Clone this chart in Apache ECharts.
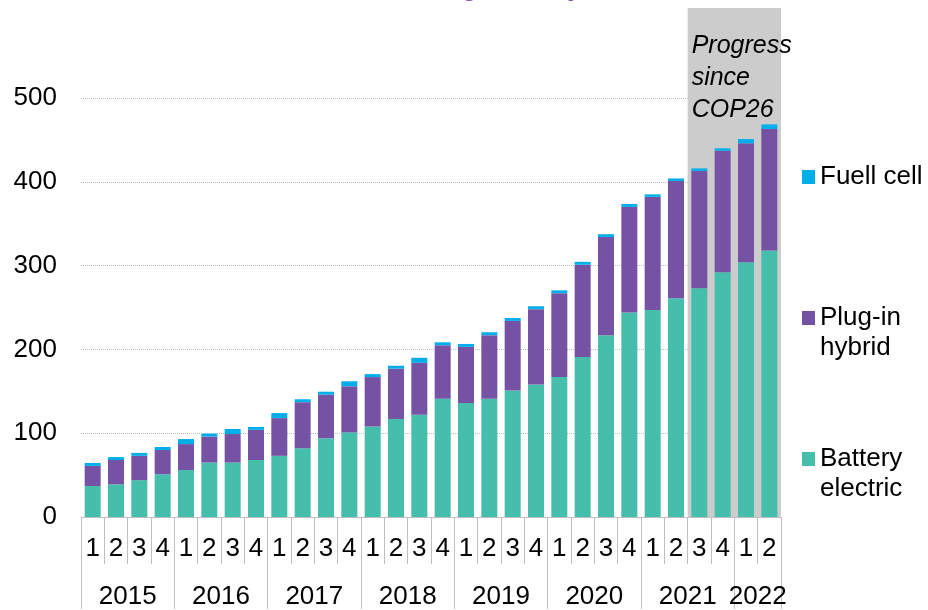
<!DOCTYPE html>
<html>
<head>
<meta charset="utf-8">
<script src="https://cdn.jsdelivr.net/npm/echarts@6/dist/echarts.min.js"></script>
<style>
  html, body { margin: 0; padding: 0; background: #fff; }
  #chart { width: 928px; height: 610px; }
</style>
</head>
<body>
<div id="chart"></div>
<script>
// quarters, 2015 Q1 - 2022 Q2
var quarterLabels = ['1','2','3','4','1','2','3','4','1','2','3','4','1','2','3','4',
  '1','2','3','4','1','2','3','4','1','2','3','4','1','2'];
var yearLabels = ['2015','2016','2017','2018','2019','2020','2021','2022'];

// values
var batteryElectric = [37, 39, 44, 51, 56, 65, 65, 68, 73, 82, 94, 101, 108, 117, 122, 141,
  136, 141, 151, 158, 167, 191, 217, 244, 247, 261, 273, 292, 304, 318];
var plugInHybrid = [24, 29, 29, 29, 31, 31, 34, 36, 45, 55, 52, 55, 59, 60, 62, 64,
  67, 76, 83, 90, 100, 110, 117, 126, 135, 140, 140, 145, 142, 145];
var fuelCell = [3.5, 3.5, 3.5, 3.5, 6, 3.5, 6, 3.5, 6, 3.5, 3.5, 6, 3.5, 3.5, 6, 3.5,
  3.5, 3.5, 3.5, 3.5, 3.5, 3.5, 3.5, 3.5, 3, 3, 3, 3, 5, 5.5];

var yTicks = { min: 0, max: 500, interval: 100 };
var cop26Start = 26; // 2021 Q3

// year row: points on quarter boundaries (0..30), labels in the middle of each year
var yearStarts = [];
quarterLabels.forEach(function (q, i) { if (q === '1') yearStarts.push(i); });
var yearSlots = [];
for (var i = 0; i <= quarterLabels.length; i++) yearSlots.push(String(i));
var yearLabelAt = {};
yearStarts.forEach(function (s, k) {
  var end = k + 1 < yearStarts.length ? yearStarts[k + 1] : quarterLabels.length;
  yearLabelAt[(s + end) / 2] = yearLabels[k];
});
var yearTickAt = {};
yearStarts.forEach(function (s) { yearTickAt[s] = true; });
yearTickAt[quarterLabels.length] = true;

var font = 'Arial, "Liberation Sans", sans-serif';
var gridColor = '#bfbfbf';

var chart = echarts.init(document.getElementById('chart'));

var legendText = { fontFamily: font, fontSize: 26, color: '#000', lineHeight: 30 };

// first text line sits level with the square, the second one hangs below
function legendLegend(name, text, top) {
  return {
    data: [name], orient: 'vertical', left: 802, top: top, padding: 0,
    itemWidth: 13, itemHeight: 14, icon: 'rect', selectedMode: false,
    formatter: function () { return text; },
    textStyle: legendText
  };
}

var option = {
  animation: false,
  title: {
    text: 'EV stock is rising steadily',
    left: 261,
    top: -24,
    padding: 0,
    textStyle: { fontFamily: font, fontSize: 26, fontWeight: 'bold', color: '#7652a5' }
  },
  grid: { left: 81, right: 147, top: 98, bottom: 92 },
  legend: [
    legendLegend('Fuell cell', 'Fuell cell', 162),
    legendLegend('Plug-in hybrid', '\nPlug-in\nhybrid', 273),
    legendLegend('Battery electric', '\nBattery\nelectric', 414)
  ],
  xAxis: [
    {
      type: 'category',
      data: quarterLabels,
      position: 'bottom',
      axisLine: { lineStyle: { color: gridColor } },
      axisTick: { show: true, interval: 0, length: 47, lineStyle: { color: gridColor } },
      axisLabel: { interval: 0, margin: 19, fontFamily: font, fontSize: 26, color: '#000' }
    },
    {
      type: 'category',
      data: yearSlots,
      boundaryGap: false,
      position: 'bottom',
      axisLine: { show: false },
      axisTick: {
        show: true, length: 92, lineStyle: { color: gridColor },
        interval: function (idx) { return !!yearTickAt[idx]; }
      },
      axisLabel: {
        interval: 0, margin: 67, fontFamily: font, fontSize: 26, color: '#000',
        formatter: function (v, idx) { return yearLabelAt[idx] || ''; }
      }
    }
  ],
  yAxis: {
    type: 'value',
    min: yTicks.min, max: yTicks.max, interval: yTicks.interval,
    axisLine: { show: false },
    axisTick: { show: false },
    axisLabel: { margin: 24, fontFamily: font, fontSize: 26, color: '#000' },
    splitLine: { lineStyle: { color: gridColor, type: 'dotted' } }
  },
  series: [
    {
      name: 'Battery electric', type: 'bar', stack: 'ev', barWidth: 16,
      data: batteryElectric, itemStyle: { color: '#45bfab' },
      markArea: {
        silent: true,
        itemStyle: { color: '#cccccc' },
        label: {
          show: true, position: [4, 22],
          formatter: 'Progress\nsince\nCOP26',
          fontFamily: font, fontSize: 25, fontStyle: 'italic', lineHeight: 32, color: '#000'
        },
        data: [[
          { xAxis: cop26Start, y: 8 },
          { xAxis: quarterLabels.length - 1, yAxis: 0 }
        ]]
      }
    },
    {
      name: 'Plug-in hybrid', type: 'bar', stack: 'ev', barWidth: 16,
      data: plugInHybrid, itemStyle: { color: '#7652a5' }
    },
    {
      name: 'Fuell cell', type: 'bar', stack: 'ev', barWidth: 16,
      data: fuelCell, itemStyle: { color: '#00aeea' }
    }
  ]
};

chart.setOption(option);
</script>
</body>
</html>
